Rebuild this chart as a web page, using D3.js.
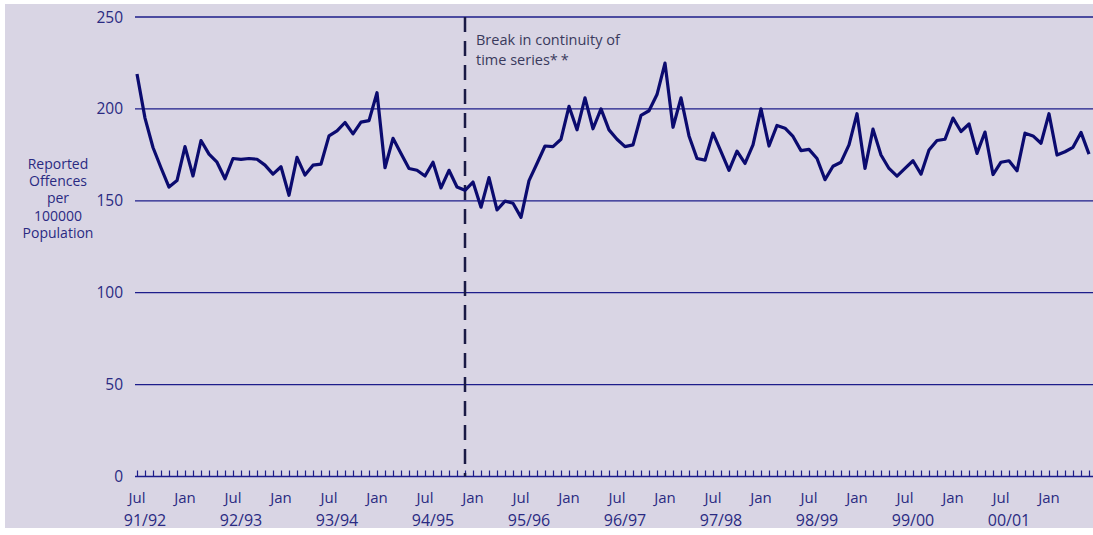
<!DOCTYPE html>
<html>
<head>
<meta charset="utf-8">
<script src="https://cdn.jsdelivr.net/npm/d3@7"></script>
<style>
  html, body { margin: 0; padding: 0; background: #fff; }
  svg { display: block; }
  text { font-family: "Open Sans", sans-serif; }
</style>
</head>
<body>
<svg id="canvas" width="1093" height="535"></svg>
<script>
// monthly offences per 100000 population, Jul 1991 .. Jun 2001
const offences = [
  219, 195, 179, 168, 157.5, 161, 179.5, 163.5, 182.8, 175.4, 171, 162,
  173, 172.5, 173, 172.6, 169.4, 164.5, 168.5, 153, 173.6, 164, 169.4, 170,
  185.3, 188, 192.6, 186.4, 192.8, 193.6, 208.8, 168, 184, 175.8, 167.6, 166.6,
  163.5, 171, 157, 166.6, 157.5, 155.7, 160.2, 146.5, 162.6, 145, 149.8, 148.7,
  141, 161, 170.3, 179.8, 179.5, 183.5, 201.4, 188.6, 206, 189.2, 200, 188.6,
  183.5, 179.5, 180.4, 196.5, 199, 207.8, 224.9, 190, 206, 185.3, 173, 172.1,
  186.8, 176.7, 166.6, 177, 170.3, 180.4, 200, 179.8, 191, 189.5, 185, 177.3,
  178, 173, 161.5, 168.8, 171, 180.4, 197.4, 167.6, 189, 174.9, 167.6, 163.4,
  167.6, 171.8, 164.5, 177.6, 182.8, 183.5, 195, 187.7, 191.8, 175.8, 187.4, 164.3,
  171, 171.8, 166.3, 186.8, 185.3, 181.3, 197.4, 174.9, 176.7, 179.1, 187.2, 175.4
];
const yTicks = [0, 50, 100, 150, 200, 250];
const monthNames = ["Jul", "Jan"];
const yearLabels = ["91/92", "92/93", "93/94", "94/95", "95/96",
                    "96/97", "97/98", "98/99", "99/00", "00/01"];
const breakMonth = 41; // Dec 1994
const yTitle = ["Reported", "Offences", "per", "100000", "Population"];
const noteLines = ["Break in continuity of", "time series"];

const W = 1093, H = 535;
const svg = d3.select("#canvas");

const navy = "#0b0b6f";
const gridCol = "#1d1d8a";
const textCol = "#2a2a82";

// background panel
svg.append("rect")
  .attr("x", 5).attr("y", 4)
  .attr("width", W - 5).attr("height", 524)
  .attr("fill", "#d9d5e4");

const x = d3.scaleLinear().domain([0, offences.length - 1]).range([137, 1089]);
const y = d3.scaleLinear().domain([0, 250]).range([476.5, 17]);

// horizontal grid lines
svg.append("g").selectAll("line")
  .data(yTicks)
  .join("line")
  .attr("x1", 135).attr("x2", W)
  .attr("y1", d => y(d)).attr("y2", d => y(d))
  .attr("stroke", gridCol)
  .attr("stroke-width", 1.3);

// y tick labels
svg.append("g").selectAll("text")
  .data(yTicks)
  .join("text")
  .attr("x", 123)
  .attr("y", d => y(d))
  .attr("dy", "0.36em")
  .attr("text-anchor", "end")
  .attr("font-size", 15.5)
  .attr("fill", textCol)
  .text(d => d);

// y title
svg.append("text")
  .attr("text-anchor", "middle")
  .attr("font-size", 14)
  .attr("fill", textCol)
  .selectAll("tspan")
  .data(yTitle)
  .join("tspan")
  .attr("x", 58)
  .attr("y", (d, i) => 169 + i * 17.2)
  .text(d => d);

// monthly ticks along the bottom
const xAxis = d3.axisBottom(x)
  .tickValues(d3.range(offences.length))
  .tickSize(-6)
  .tickFormat("");
const gx = svg.append("g")
  .attr("transform", `translate(0,${y(0)})`)
  .call(xAxis);
gx.select(".domain").remove();
gx.selectAll(".tick line").attr("stroke", gridCol).attr("stroke-width", 1.2);

// month labels every 6 months
svg.append("g").selectAll("text")
  .data(d3.range(0, offences.length, 6))
  .join("text")
  .attr("x", d => x(d))
  .attr("y", 498)
  .attr("dy", "0.36em")
  .attr("text-anchor", "middle")
  .attr("font-size", 15)
  .attr("fill", textCol)
  .text(d => monthNames[(d / 6) % 2]);

// financial year labels
svg.append("g").selectAll("text")
  .data(yearLabels)
  .join("text")
  .attr("x", (d, i) => x(i * 12 + 1))
  .attr("y", 520)
  .attr("dy", "0.36em")
  .attr("text-anchor", "middle")
  .attr("font-size", 16)
  .attr("fill", textCol)
  .text(d => d);

// break in series marker
svg.append("line")
  .attr("x1", x(breakMonth)).attr("x2", x(breakMonth))
  .attr("y1", y(250)).attr("y2", y(0))
  .attr("stroke", "#1a1a45")
  .attr("stroke-width", 2.5)
  .attr("stroke-dasharray", "15,9");

// note beside the break, two lines
svg.append("text")
  .attr("x", x(breakMonth) + 11).attr("y", 45)
  .attr("font-size", 14.5)
  .attr("fill", "#3a3a5c")
  .text(noteLines[0]);
const note2 = svg.append("text")
  .attr("x", x(breakMonth) + 11).attr("y", 65)
  .attr("font-size", 14.5)
  .attr("fill", "#3a3a5c")
  .text(noteLines[1]);
note2.append("tspan").attr("letter-spacing", 3).text("**");

// data line
const line = d3.line()
  .x((d, i) => x(i))
  .y(d => y(d));

svg.append("path")
  .datum(offences)
  .attr("d", line)
  .attr("fill", "none")
  .attr("stroke", navy)
  .attr("stroke-width", 3.2)
  .attr("stroke-linejoin", "round");
</script>
</body>
</html>
